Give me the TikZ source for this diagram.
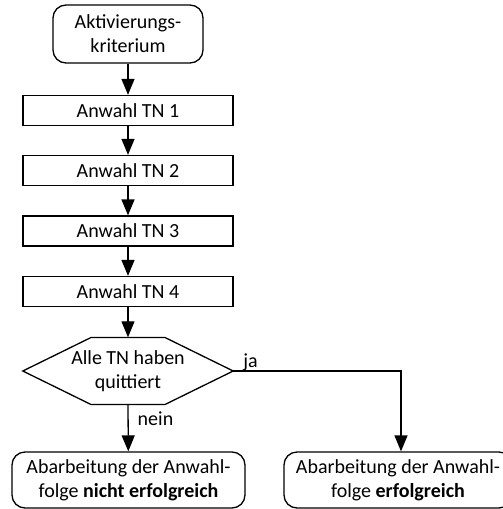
\documentclass[tikz,border=0pt]{standalone}
\usepackage{fontspec}
\setmainfont{Carlito}
\usetikzlibrary{arrows.meta}
\begin{document}
\begin{tikzpicture}[x=1pt,y=-1pt,
  every node/.style={font=\fontsize{20}{24}\selectfont, inner sep=0pt, align=center},
  line/.style={line width=1.3pt},
  startbox/.style={draw, line, rounded corners=13pt, minimum width=150pt, minimum height=58pt},
  tnbox/.style={draw, line, minimum width=210pt, minimum height=30pt},
  endbox/.style={draw, line, rounded corners=13pt, minimum height=56pt},
  arr/.style={line, -{Triangle[length=16pt,width=13pt]}}]
\useasboundingbox (0,0) rectangle (503,509);
\node[startbox] (start) at (128,34) {Aktivierungs-\\kriterium};
\node[tnbox] (tn1) at (128,110.5) {Anwahl TN 1};
\node[tnbox] (tn2) at (128,170.5) {Anwahl TN 2};
\node[tnbox] (tn3) at (128,231) {Anwahl TN 3};
\node[tnbox] (tn4) at (128,291.5) {Anwahl TN 4};
\node[minimum width=210pt, minimum height=67pt] (dec) at (128,371) {Alle TN haben\\quittiert};
\draw[line] (dec.west) -- (91,337.5) -- (165,337.5) -- (dec.east) -- (165,404.5) -- (91,404.5) -- cycle;
\node[endbox, minimum width=233pt] (no) at (128.5,480) {Abarbeitung der Anwahl-\\folge \textbf{nicht erfolgreich}};
\node[endbox, minimum width=228pt] (yes) at (398,480) {Abarbeitung der Anwahl-\\folge \textbf{erfolgreich}};
\coordinate (corner) at (401,371);
\draw[arr] (start) -- (tn1);
\draw[arr] (tn1) -- (tn2);
\draw[arr] (tn2) -- (tn3);
\draw[arr] (tn3) -- (tn4);
\draw[arr] (tn4) -- (dec.north);
\draw[arr] (dec.south) -- node[right=9pt, pos=0.3] {nein} (no);
\draw[arr] (dec.east) -- (corner) -- (corner |- yes.north);
\node[anchor=base west] (ja) at ([xshift=10pt,yshift=4pt]dec.east) {ja};
\end{tikzpicture}
\end{document}
